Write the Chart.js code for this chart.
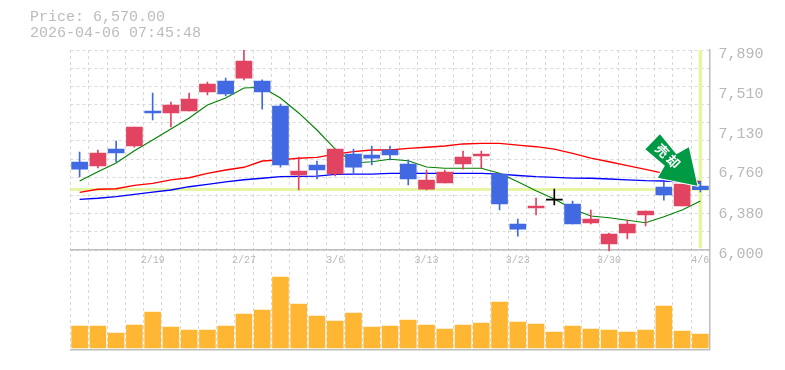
<!DOCTYPE html>
<html>
<head>
<meta charset="utf-8">
<style>
  html, body { margin: 0; padding: 0; background: #fff; }
  #wrap { position: relative; width: 785px; height: 370px; overflow: hidden; }
  #info { position: absolute; left: 30px; top: 10px; font: 15px/16px 'Liberation Mono', monospace; color: #bcbcbc; white-space: pre; }
  canvas { display: block; }
</style>
<script src="https://cdn.jsdelivr.net/npm/chart.js@4/dist/chart.umd.min.js"></script>
</head>
<body>
<div id="wrap">
  <div id="info"><div id="priceText"></div><div id="dateText"></div></div>
  <canvas id="chart" width="785" height="370"></canvas>
</div>
<script>
var priceText = 'Price: 6,570.00';
var dateText = '2026-04-06 07:45:48';
var lastPrice = 6570;
var signalText = ['売', '却'];

var dates = ['2/13','2/16','2/17','2/18','2/19','2/20','2/24','2/25','2/26','2/27','3/2','3/3','3/4','3/5','3/6','3/9','3/10','3/11','3/12','3/13','3/16','3/17','3/18','3/19','3/23','3/24','3/25','3/26','3/27','3/30','3/31','4/1','4/2','4/3','4/6'];
var opens = [6832,6794,6954,6983,7314,7295,7314,7493,7597,7625,7597,7361,6709,6803,6718,6907,6898,6945,6813,6576,6633,6813,6888,6718,6246,6397,6472,6435,6255,6057,6161,6331,6595,6416,6605];
var highs = [6926,6945,7030,7162,7484,7399,7484,7588,7625,7890,7607,7380,6879,6841,6954,6954,6983,6983,6851,6756,6756,6936,6936,6718,6293,6491,6576,6463,6378,6161,6283,6369,6643,6624,6652];
var lows = [6690,6775,6832,6973,7229,7162,7314,7465,7455,7607,7332,6784,6567,6671,6699,6728,6803,6851,6614,6567,6633,6765,6775,6378,6132,6331,6425,6246,6246,5991,6104,6227,6472,6416,6548];
var closes = [6765,6917,6917,7162,7295,7370,7427,7569,7474,7786,7493,6803,6747,6756,6954,6784,6869,6898,6671,6662,6737,6879,6907,6435,6198,6416,6472,6246,6293,6151,6246,6369,6520,6624,6570];
var maShort = [6652,6740,6822,6938,7040,7143,7247,7370,7436,7531,7538,7436,7295,7134,6954,6822,6834,6857,6844,6784,6772,6772,6772,6725,6645,6560,6482,6387,6321,6305,6281,6258,6315,6378,6463];
var maMid = [6545,6574,6579,6611,6630,6662,6683,6725,6756,6782,6841,6851,6867,6876,6907,6929,6945,6945,6961,6971,6983,7002,7008,7008,6992,6976,6954,6914,6869,6834,6797,6763,6725,6690,6643];
var maLong = [6479,6489,6504,6526,6548,6567,6598,6621,6643,6664,6678,6693,6696,6699,6715,6718,6718,6725,6725,6725,6725,6725,6725,6718,6704,6693,6687,6680,6678,6671,6662,6655,6652,6643,6633];
var volumes = [22000,22000,15000,23000,36000,21000,18000,18000,22000,34000,38000,71000,44000,32000,27000,35000,21000,22000,28000,23000,19000,23000,25000,46000,26000,24000,16000,22000,19000,18000,16000,18000,42000,17000,14000];
var priceTicks = [6000,6380,6760,7130,7510,7890];
var gridLevels = [6000,6172,6344,6515,6687,6859,7031,7203,7375,7546,7718,7890];

var RED = '#e24360';
var BLUE = '#4169e1';
var GRID = '#d8d8d8';
var EDGE = '#bdbdbd';
var TEXT = '#b8b8b8';
var NOW = '#e6f5a3';

function candleColor(ctx) {
  var i = ctx.dataIndex;
  if (opens[i] === closes[i]) return '#000';
  return closes[i] > opens[i] ? RED : BLUE;
}

function pair(a, b) {
  return a.map(function(v, i) { return [v, b[i]]; });
}

function lineSet(data, color, width) {
  return { type: 'line', data: data, yAxisID: 'y', borderColor: color, borderWidth: width, pointRadius: 0, tension: 0, fill: false, order: 5 };
}

// the sell marker, hung from the last candle
var signalPlugin = {
  id: 'signal',
  afterDatasetsDraw: function(chart) {
    var c = chart.ctx;
    var tx = chart.scales.x.getPixelForValue(dates.length - 1) - 3;
    var ty = chart.scales.y.getPixelForValue(lastPrice) - 4;
    var shape = [[-37.5,-51.5],[-52,-36.5],[-32.5,-20],[-39.5,-8],[0,0],[-8.5,-38.5],[-21,-31.5]];
    c.save();
    c.beginPath();
    shape.forEach(function(p, i) {
      if (i === 0) c.moveTo(tx + p[0], ty + p[1]); else c.lineTo(tx + p[0], ty + p[1]);
    });
    c.closePath();
    c.lineWidth = 2;
    c.strokeStyle = '#fff';
    c.stroke();
    c.fillStyle = '#009944';
    c.fill();
    c.fillStyle = '#fff';
    c.font = 'bold 13px "Noto Sans CJK JP"';
    c.textAlign = 'center';
    c.textBaseline = 'middle';
    signalText.forEach(function(ch, i) {
      c.save();
      c.translate(tx - 35 + i * 11, ty - 35 + i * 11);
      c.rotate(Math.PI / 4);
      c.fillText(ch, 0, 0);
      c.restore();
    });
    c.restore();
  }
};

document.getElementById('priceText').textContent = priceText;
document.getElementById('dateText').textContent = dateText;

new Chart(document.getElementById('chart'), {
  data: {
    labels: dates,
    datasets: [
      lineSet(maShort, '#008000', 1.1),
      lineSet(maMid, '#ff0000', 1.3),
      lineSet(maLong, '#0000ff', 1.3),
      {
        type: 'bar', data: volumes, yAxisID: 'yVol', backgroundColor: '#ffb733',
        barThickness: 16, grouped: false, order: 6
      },
      {
        // current date marker
        type: 'bar', data: dates.map(function(d, i) { return i === dates.length - 1 ? [6020, 7890] : null; }),
        yAxisID: 'y', backgroundColor: NOW, barThickness: 3, grouped: false, order: 7
      },
      {
        type: 'bar', data: pair(lows, highs), yAxisID: 'y', backgroundColor: candleColor,
        barThickness: 1, grouped: false, order: 2
      },
      {
        type: 'bar', data: pair(opens, closes), yAxisID: 'y', backgroundColor: candleColor,
        barThickness: 16, minBarLength: 1, grouped: false, order: 1
      }
    ]
  },
  options: {
    responsive: false,
    animation: false,
    layout: { padding: { left: 70.5, top: 50, bottom: 20.5, right: 0 } },
    plugins: { legend: { display: false }, tooltip: { enabled: false } },
    scales: {
      x: {
        type: 'category',
        position: { y: 6000 },
        grid: { color: GRID, lineWidth: 1, drawTicks: false },
        border: { color: EDGE, dash: [3, 3], width: 1.5 },
        ticks: {
          autoSkip: false, maxRotation: 0, minRotation: 0, padding: 4, color: TEXT,
          font: { family: "'Liberation Mono', monospace", size: 10 },
          callback: function(v, i) { return (dates.length - 1 - i) % 5 === 0 ? dates[i] : ''; }
        }
      },
      xBase: {
        type: 'category', position: 'bottom',
        grid: { display: false, drawTicks: false },
        border: { color: EDGE, width: 1.5 },
        ticks: { display: false }
      },
      yGrid: {
        position: 'right', min: 5060, max: 7890,
        afterBuildTicks: function(axis) { axis.ticks = gridLevels.map(function(v) { return { value: v }; }); },
        grid: { color: GRID, drawTicks: false },
        border: { display: false, dash: [3, 3] },
        ticks: { display: false }
      },
      yNow: {
        position: 'right', min: 5060, max: 7890,
        afterBuildTicks: function(axis) { axis.ticks = [{ value: lastPrice }]; },
        grid: { color: NOW, lineWidth: 3, drawTicks: false },
        border: { display: false },
        ticks: { display: false }
      },
      y: {
        position: 'right', min: 5060, max: 7890,
        // labels sit a little under their level
        afterBuildTicks: function(axis) { axis.ticks = priceTicks.map(function(v) { return { value: v - 36 }; }); },
        afterFit: function(axis) { axis.width = 75.5; axis.paddingTop = 0; axis.paddingBottom = 0; },
        grid: { display: false, drawTicks: false },
        border: { color: EDGE, width: 1.5 },
        ticks: {
          padding: 9, color: TEXT, autoSkip: false,
          font: { family: "'Liberation Mono', monospace", size: 15 },
          callback: function(v, i) { return priceTicks[i].toLocaleString('en-US'); }
        }
      },
      yVol: {
        display: false, min: -1500, max: 298000
      }
    }
  },
  plugins: [signalPlugin]
});
</script>
</body>
</html>
